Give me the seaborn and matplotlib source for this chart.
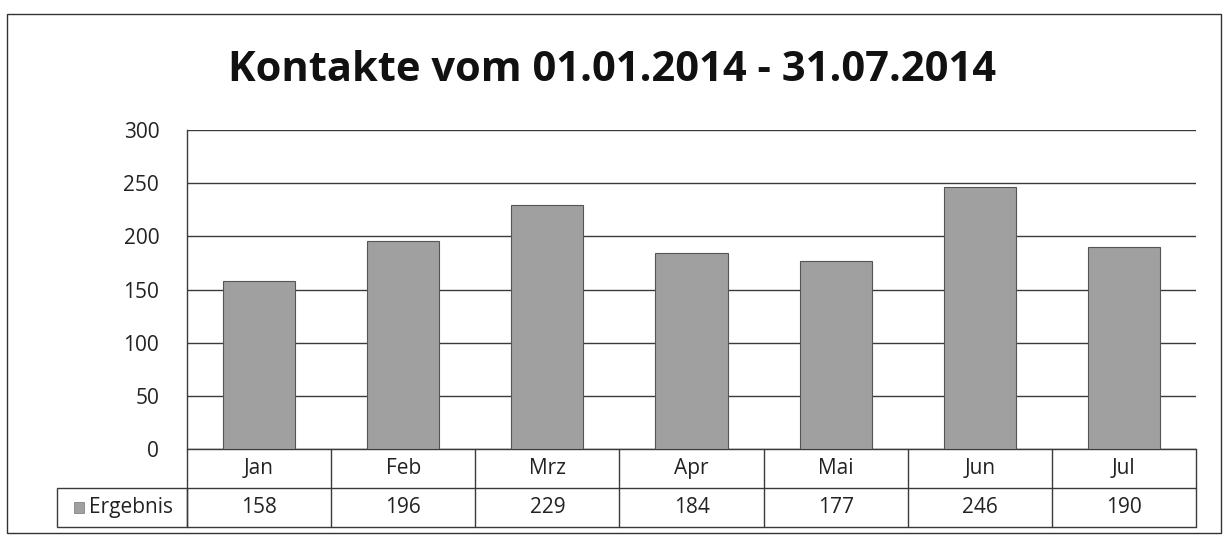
import matplotlib
matplotlib.use("Agg")
import matplotlib.pyplot as plt
import seaborn as sns
from matplotlib.patches import Rectangle

# data
months = ["Jan", "Feb", "Mrz", "Apr", "Mai", "Jun", "Jul"]
kontakte = [158, 196, 229, 184, 177, 246, 190]
series_name = "Ergebnis"
title = "Kontakte vom 01.01.2014 - 31.07.2014"

sns.set_theme(style="white")
plt.rcParams["font.family"] = ["Open Sans", "DejaVu Sans"]

bar_color = "#a0a0a0"
line_color = "#3a3a3a"
txt_color = "#222222"
fs = 15

fig = plt.figure(figsize=(12.24, 5.45), dpi=100)
ax = fig.add_axes([187 / 1224, 1 - 449 / 545, (1196 - 187) / 1224, (449 - 130) / 545])

sns.barplot(x=months, y=kontakte, ax=ax, color=bar_color, width=0.5,
            edgecolor="#555555", linewidth=0.8, saturation=1, zorder=3)

ax.set_xlim(-0.5, len(months) - 0.5)
ax.set_ylim(0, 300)
ax.set_yticks(range(0, 301, 50))
ax.tick_params(axis="y", labelsize=fs, length=0, pad=20, colors=txt_color)
ax.set_xticks([])
ax.set_xlabel("")
ax.set_ylabel("")
ax.yaxis.grid(True, color=line_color, linewidth=1.0, zorder=0)
for s in ["top", "right", "bottom"]:
    ax.spines[s].set_visible(False)
ax.spines["left"].set_color(line_color)
ax.spines["left"].set_linewidth(1.0)

fig.suptitle(title, fontsize=30, fontweight="bold", x=0.5, y=0.908, color="#111111")

# data table under the axis
tr = ax.get_xaxis_transform()
row_h = 39 / (449 - 130)
n = len(months)
lw = 1.0
for yy in [0, -row_h, -2 * row_h]:
    ax.plot([-0.5, n - 0.5], [yy, yy], transform=tr, color=line_color, lw=lw, clip_on=False)
for i in range(n + 1):
    ax.plot([i - 0.5, i - 0.5], [0, -2 * row_h], transform=tr, color=line_color, lw=lw, clip_on=False)
label_left = -0.5 - 130 / ((1196 - 187) / n)
ax.add_patch(Rectangle((label_left, -2 * row_h), -0.5 - label_left, row_h, transform=tr,
                       fill=False, edgecolor=line_color, lw=lw, clip_on=False))
for i, (m, v) in enumerate(zip(months, kontakte)):
    ax.text(i, -0.5 * row_h, m, transform=tr, ha="center", va="center", fontsize=fs, color=txt_color)
    ax.text(i, -1.5 * row_h, str(v), transform=tr, ha="center", va="center", fontsize=fs, color=txt_color)
ax.add_patch(Rectangle((label_left + 0.12, -1.5 * row_h - 0.016), 0.065, 0.032, transform=tr,
                       facecolor=bar_color, edgecolor="#777777", lw=0.5, clip_on=False))
ax.text(label_left + 0.225, -1.5 * row_h, series_name, transform=tr, ha="left", va="center",
        fontsize=fs, color=txt_color)

# outer chart border
fig.add_artist(Rectangle((7 / 1224, 1 - 533 / 545), (1221 - 7) / 1224, (533 - 14) / 545,
                         transform=fig.transFigure, fill=False, edgecolor="#333333", lw=1.0))

fig.savefig("out.png", dpi=100, facecolor="white")
